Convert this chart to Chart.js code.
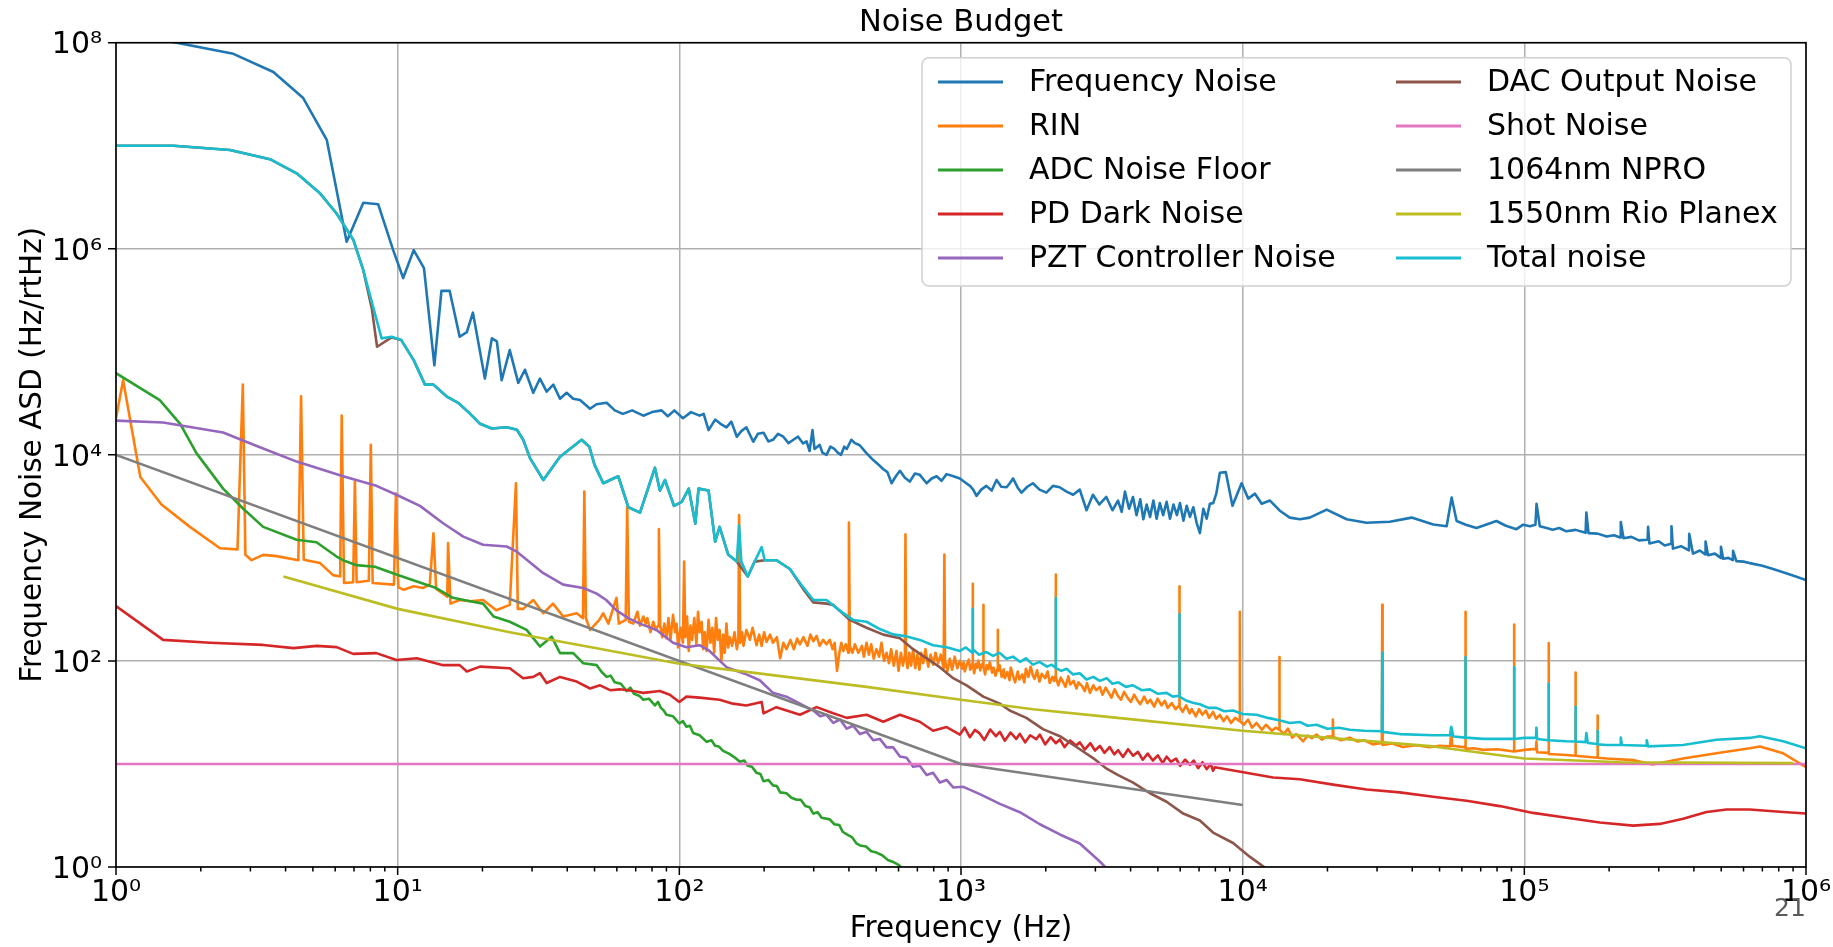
<!DOCTYPE html>
<html>
<head>
<meta charset="utf-8">
<title>Noise Budget</title>
<script src="https://cdn.jsdelivr.net/npm/chart.js@4.4.1/dist/chart.umd.min.js"></script>
<style>
  html, body { margin: 0; padding: 0; background: #fff; }
  canvas { display: block; }
</style>
</head>
<body>
<canvas id="budget" width="1833" height="947"></canvas>
<script>
// Noise budget curves, each point is [frequency (Hz), ASD (Hz/rtHz)]
const freqNoise = [
  [1, 1.3e8], [1.64, 1.0e8], [2.61, 7.8e7], [3.62, 5.2e7], [4.62, 2.9e7], [5.6, 1.14e7], [6.59, 1.17e6],
  [7.55, 2.8e6], [8.53, 2.7e6], [9.64, 9.7e5], [10.46, 5.2e5], [11.4, 9.7e5], [12.4, 6.5e5], [13.5, 7.4e4],
  [14.3, 3.9e5], [15.3, 3.9e5], [16.6, 1.4e5], [17.6, 1.55e5], [18.5, 2.4e5], [20.4, 5.5e4], [21.6, 1.35e5],
  [22.5, 1.26e5], [23.4, 5.3e4], [25.0, 1.04e5], [26.8, 5.0e4], [28.3, 6.7e4], [30.3, 4.0e4], [32, 5.5e4],
  [33.8, 4.1e4], [35.7, 4.8e4], [37.7, 3.5e4], [39.8, 4.0e4], [42, 3.5e4], [44.4, 3.4e4], [48.2, 2.8e4],
  [50.8, 3.1e4], [55.2, 3.2e4], [59, 2.7e4], [63, 2.5e4], [68, 2.7e4], [74.5, 2.4e4], [80, 2.6e4],
  [86.5, 2.7e4], [91, 2.37e4], [96, 2.7e4], [103, 2.27e4], [110, 2.6e4], [118, 2.4e4], [122, 2.5e4],
  [127, 1.74e4], [134, 2.2e4], [140, 2.0e4], [147, 1.85e4], [153, 2.1e4], [160, 1.5e4], [166, 1.7e4],
  [173, 1.85e4], [183, 1.34e4], [190, 1.6e4], [199, 1.64e4], [207, 1.35e4], [215, 1.4e4], [224, 1.6e4],
  [234, 1.5e4], [244, 1.3e4], [254, 1.4e4], [264, 1.5e4], [275, 1.29e4], [283, 1.35e4], [290, 1.09e4],
  [297, 1.74e4], [302, 1.14e4], [315, 1.25e4], [322, 1.05e4], [333, 1.0e4], [344, 1.2e4], [355, 1.14e4],
  [365, 1.05e4], [375, 1.0e4], [385, 1.2e4], [393, 1.14e4], [408, 1.4e4], [420, 1.3e4], [437, 1.24e4],
  [460, 1.05e4], [488, 8.9e3], [510, 8.0e3], [529, 7.3e3], [548, 6.8e3], [567, 5.3e3], [587, 6.2e3],
  [607, 7.0e3], [632, 6.0e3], [658, 5.5e3], [686, 6.6e3], [714, 6.4e3], [735, 5.8e3], [755, 5.3e3],
  [787, 5.9e3], [819, 6.2e3], [853, 5.6e3], [889, 6.5e3], [940, 6.2e3], [991, 5.9e3], [1035, 5.4e3],
  [1076, 5.0e3], [1105, 4.6e3], [1135, 4.0e3], [1180, 4.6e3], [1230, 5.0e3], [1285, 4.5e3], [1337, 5.7e3],
  [1390, 4.9e3], [1452, 4.85e3], [1490, 5.3e3], [1530, 5.9e3], [1590, 4.8e3], [1640, 4.3e3], [1720, 4.9e3],
  [1800, 5.3e3], [1900, 4.6e3], [2010, 4.3e3], [2120, 5.0e3], [2240, 4.85e3], [2370, 4.4e3], [2500, 4.1e3],
  [2640, 4.6e3], [2790, 2.9e3], [2940, 4.1e3], [3100, 3.3e3], [3280, 3.9e3], [3450, 2.9e3], [3610, 3.6e3],
  [3720, 2.8e3], [3820, 4.4e3], [3950, 3.0e3], [4080, 3.9e3], [4200, 2.6e3], [4330, 3.7e3], [4440, 2.37e3],
  [4560, 3.3e3], [4690, 2.5e3], [4820, 3.6e3], [4950, 2.4e3], [5080, 3.4e3], [5220, 2.6e3], [5370, 3.5e3],
  [5520, 2.4e3], [5680, 3.3e3], [5840, 2.6e3], [5990, 3.4e3], [6160, 2.3e3], [6330, 3.2e3], [6500, 2.5e3],
  [6680, 3.1e3], [6860, 2.2e3], [7050, 1.74e3], [7250, 3.0e3], [7450, 2.4e3], [7650, 3.35e3], [7860, 3.4e3],
  [8060, 4.2e3], [8300, 6.7e3], [8710, 6.8e3], [9200, 3.2e3], [9910, 5.3e3], [10470, 3.76e3], [11060, 4.2e3],
  [11680, 3.35e3], [12500, 3.6e3], [13550, 2.87e3], [14700, 2.46e3], [15960, 2.37e3], [17300, 2.46e3],
  [19870, 2.94e3], [23400, 2.37e3], [27500, 2.19e3], [33300, 2.24e3], [39800, 2.46e3], [47500, 2.11e3],
  [53000, 2.03e3], [55200, 3.85e3], [57500, 2.28e3], [62000, 2.1e3], [67600, 1.95e3], [73000, 2.1e3],
  [79600, 2.28e3], [86000, 2.05e3], [93800, 1.9e3], [99000, 2.1e3], [104700, 2.03e3], [109500, 2.1e3],
  [110500, 3.35e3], [113500, 2.03e3], [120000, 1.95e3], [126000, 1.88e3], [133000, 1.95e3], [141000, 1.81e3],
  [152000, 1.87e3], [165000, 1.75e3], [166000, 2.76e3], [169000, 1.74e3], [182000, 1.72e3], [196000, 1.61e3],
  [208000, 1.66e3], [219000, 1.58e3], [220000, 2.23e3], [225000, 1.55e3], [240000, 1.6e3], [255000, 1.48e3],
  [274000, 1.5e3], [275000, 2.0e3], [278000, 1.38e3], [300000, 1.45e3], [315000, 1.32e3], [332000, 1.37e3],
  [333000, 2.03e3], [337000, 1.23e3], [360000, 1.3e3], [384000, 1.18e3], [385000, 1.71e3], [397000, 1.1e3],
  [420000, 1.18e3], [439000, 1.08e3], [440000, 1.44e3], [449000, 1.06e3], [475000, 1.1e3], [498000, 1.0e3],
  [499000, 1.28e3], [508000, 9.8e2], [530000, 1.0e3], [550000, 9.5e2], [551000, 1.17e3], [566000, 9.3e2],
  [600000, 9.2e2], [631000, 8.9e2], [700000, 8.4e2], [764000, 7.8e2], [850000, 7.1e2], [920000, 6.6e2],
  [1e6, 6.1e2]
];

const rin = [
  [1, 2.26e4], [1.06, 5.3e4], [1.22, 6.1e3], [1.45, 3.3e3], [1.83, 2.0e3], [2.34, 1.24e3], [2.7, 1.21e3],
  [2.82, 4.8e4], [2.88, 1.07e3], [3.03, 9.5e2], [3.33, 1.07e3], [3.72, 1.04e3], [4.44, 9.5e2], [4.54, 3.7e4],
  [4.64, 9.6e2], [5.3, 8.9e2], [5.9, 6.8e2], [6.25, 6.6e2], [6.33, 2.4e4], [6.45, 5.7e2], [6.95, 5.8e2],
  [7.05, 5.5e3], [7.15, 5.8e2], [7.9, 6.0e2], [8.03, 1.25e4], [8.15, 5.7e2], [9.7, 5.5e2], [9.86, 4.2e3],
  [10.05, 5.2e2], [10.5, 4.9e2], [11.4, 5.3e2], [12.3, 5.1e2], [13.0, 5.5e2], [13.4, 1.73e3], [13.7, 5.0e2],
  [14.5, 4.5e2], [15.0, 4.2e2], [15.1, 1.39e3], [15.4, 3.6e2], [16.6, 3.9e2], [18.1, 3.8e2], [20.1, 3.9e2],
  [22.4, 3.1e2], [25, 3.5e2], [26.3, 5.3e3], [26.7, 3.2e2], [27.9, 3.2e2], [30.3, 3.9e2], [32.9, 2.9e2],
  [35.6, 3.6e2], [38.7, 2.7e2], [43.2, 2.9e2], [45.5, 2.6e2], [46, 4.4e3], [46.6, 2.6e2], [48.2, 2.0e2],
  [52, 2.5e2], [53.7, 2.9e2], [56, 2.3e2], [59.8, 4.1e2], [61, 2.3e2], [64.5, 2.5e2], [65.3, 3.1e3],
  [66.2, 2.4e2], [68.6, 2.3e2], [71, 3.0e2], [72.5, 2.2e2], [74.5, 2.7e2], [76, 2.3e2], [77, 2.6e2],
  [79, 1.9e2], [80.8, 2.4e2], [82.5, 2.0e2], [84, 2.2e2], [84.6, 1.9e3], [85.5, 2.2e2], [87, 1.7e2],
  [88.5, 2.3e2], [90, 1.66e2], [91.5, 2.6e2], [93, 1.6e2], [95, 2.8e2], [96.5, 1.9e2], [97.8, 2.3e2],
  [99, 1.35e2], [101, 2.1e2], [103, 1.5e2], [104, 9.2e2], [105, 1.7e2], [106.5, 2.7e2], [108, 1.25e2],
  [109.5, 2.2e2], [111, 1.6e2], [113, 2.6e2], [115, 1.45e2], [116.5, 3.0e2], [118, 1.9e2], [120, 2.4e2],
  [121.5, 1.3e2], [123, 1.9e2], [125, 1.25e2], [127, 2.5e2], [129, 1.5e2], [131, 2.1e2], [133, 1.2e2],
  [135, 2.6e2], [137, 1.6e2], [139, 2.0e2], [141, 1.0e2], [143, 1.8e2], [145, 1.2e2], [147, 2.3e2],
  [149, 1.35e2], [151, 1.7e2], [154, 1.4e2], [157, 1.9e2], [160, 1.3e2], [162, 1.6e2], [163, 2.6e3],
  [164.5, 1.5e2], [167, 1.9e2], [169, 1.4e2], [173, 2.0e2], [178, 1.6e2], [182, 2.1e2], [188, 1.42e2],
  [192, 1.8e2], [196, 1.4e2], [200, 1.9e2], [204, 1.53e2], [210, 1.8e2], [215, 1.5e2], [222, 1.7e2],
  [228, 1.06e2], [234, 1.5e2], [240, 1.3e2], [248, 1.6e2], [255, 1.3e2], [262, 1.65e2], [268, 1.45e2],
  [276, 1.7e2], [285, 1.4e2], [292, 1.8e2], [299, 1.55e2], [307, 1.75e2], [315, 1.4e2], [324, 1.6e2],
  [333, 1.45e2], [342, 1.6e2], [350, 1.3e2], [356, 1.5e2], [363, 80], [370, 1.2e2], [376, 1.5e2],
  [382, 1.25e2], [390, 1.45e2], [398, 1.2e2], [400, 2.2e3], [403, 1.4e2], [412, 1.2e2], [420, 1.45e2],
  [432, 1.2e2], [445, 1.4e2], [452, 1.1e2], [462, 1.5e2], [471, 1.15e2], [480, 1.45e2], [490, 1.05e2],
  [501, 1.3e2], [512, 1.1e2], [522, 1.5e2], [533, 1.0e2], [544, 1.2e2], [555, 95], [565, 1.3e2], [577, 90],
  [590, 1.25e2], [600, 80], [612, 1.2e2], [622, 90], [632, 1.15e2], [635, 1.69e3], [638, 1.1e2], [646, 85],
  [655, 1.2e2], [665, 90], [676, 1.3e2], [688, 85], [700, 1.15e2], [712, 82], [722, 1.2e2], [734, 95],
  [748, 1.3e2], [765, 88], [780, 1.15e2], [796, 92], [812, 1.2e2], [830, 95], [848, 1.15e2], [868, 85],
  [873, 1.08e3], [878, 1.0e2], [895, 80], [912, 1.05e2], [930, 82], [950, 1.1e2], [970, 85], [991, 1.0e2],
  [1010, 84], [1022, 97], [1031, 79], [1048, 92], [1066, 103], [1078, 82], [1090, 88], [1098, 95],
  [1100, 5.6e2], [1103, 92], [1114, 76], [1128, 94], [1139, 86], [1152, 101], [1170, 81], [1184, 92],
  [1198, 95], [1200, 3.5e2], [1203, 88], [1218, 74], [1233, 91], [1251, 83], [1266, 97], [1290, 77],
  [1305, 86], [1326, 72], [1348, 84], [1350, 2.0e2], [1353, 80], [1372, 91], [1394, 70], [1418, 83],
  [1430, 68], [1461, 78], [1487, 65], [1502, 86], [1534, 70], [1556, 62], [1590, 79], [1612, 66], [1650, 74],
  [1678, 62], [1700, 84], [1735, 70], [1768, 88], [1800, 72], [1825, 67], [1862, 81], [1900, 63], [1935, 75],
  [1990, 68], [2030, 79], [2066, 61], [2110, 70], [2140, 64], [2168, 72], [2170, 6.9e2], [2173, 70],
  [2215, 58], [2260, 69], [2300, 63], [2350, 56], [2405, 71], [2440, 59], [2510, 64], [2570, 54], [2610, 62],
  [2690, 57], [2750, 51], [2800, 61], [2870, 49], [2950, 58], [3020, 52], [3110, 56], [3180, 47], [3260, 55],
  [3330, 50], [3420, 44], [3510, 53], [3600, 46], [3700, 42], [3790, 50], [3900, 44], [4010, 40], [4120, 47],
  [4240, 41], [4330, 38], [4470, 45], [4590, 39], [4700, 42], [4850, 36], [4990, 43], [5150, 37], [5290, 41],
  [5420, 35], [5600, 39], [5780, 34], [5950, 37], [5960, 5.3e2], [5975, 36], [6120, 32], [6300, 37],
  [6480, 31], [6600, 34], [6820, 29], [7000, 34], [7200, 30], [7400, 33], [7600, 28], [7850, 32],
  [8050, 27.5], [8300, 30], [8550, 26], [8800, 29], [9100, 25], [9400, 28], [9760, 26], [9770, 3.0e2],
  [9790, 26], [10100, 24], [10450, 27], [10800, 22.5], [11200, 25], [11700, 21.5], [12100, 24], [12700, 21],
  [13100, 22.5], [13480, 21.5], [13500, 1.09e2], [13530, 21.5], [14000, 19.5], [14500, 22], [15000, 18],
  [15500, 19.5], [16400, 16.6], [17000, 18.8], [17600, 17.8], [18300, 19.3], [19100, 17.2], [20000, 18.5],
  [20800, 18.5], [20900, 27], [21000, 18.3], [22300, 17], [24000, 18], [25600, 16.5], [27000, 17],
  [29000, 15.5], [31200, 16], [31300, 3.5e2], [31400, 15.3], [34000, 15.8], [37000, 14.6], [41400, 15.2],
  [46000, 14.5], [50000, 15], [54500, 14.8], [55000, 20], [55500, 15], [61700, 14.5], [61800, 3.0e2],
  [61900, 14], [66000, 14.2], [71400, 13.7], [80000, 13.9], [91900, 13.2], [92000, 2.26e2], [92100, 13.2],
  [100000, 13.7], [110000, 14], [110400, 16.6], [111000, 13], [121800, 12.8], [122000, 1.49e2],
  [122200, 12.5], [141000, 12.2], [151800, 12], [152000, 77], [152200, 12], [181800, 11.5], [182000, 29.5],
  [182300, 11.5], [196000, 11.3], [243000, 10.9], [286000, 9.9], [366000, 11.3], [481000, 12.7],
  [631000, 14.2], [686000, 14.8], [830000, 12.7], [1e6, 9.3]
];

const adcFloor = [
  [1, 6.2e4], [1.43, 3.4e4], [1.69, 2.0e4], [1.93, 1.04e4], [2.4, 4.7e3], [2.83, 3.0e3], [3.33, 2.0e3],
  [4.38, 1.5e3], [5.15, 1.42e3], [6.07, 1.03e3], [6.4, 9.5e2], [7.14, 8.5e2], [8.3, 8.2e2], [9.9, 6.9e2],
  [11.7, 5.9e2], [13.7, 5.1e2], [15.7, 4.1e2], [18.1, 3.8e2], [20.1, 3.6e2], [21.9, 2.7e2], [25, 2.4e2],
  [28.7, 2.0e2], [32, 1.38e2], [35.2, 1.72e2], [37.7, 1.19e2], [42, 1.19e2], [45.6, 95], [50.9, 91],
  [53, 78], [55.2, 70], [57, 72], [59, 62], [62, 60], [65, 51], [67, 55], [69, 48], [72, 46], [74.5, 42],
  [78, 43], [81.9, 37], [84, 40], [86, 35], [88, 33], [90, 30], [95, 29], [100, 24.7], [103, 26], [106, 23],
  [109, 23.5], [112, 20], [118, 19], [125, 16.4], [130, 17], [134, 15], [138, 14.8], [143, 13.4], [150, 12.6],
  [157, 11.6], [164, 10.5], [170, 10.8], [175, 9.6], [181, 9.4], [188, 8.2], [194, 8], [199, 6.8], [207, 7.0],
  [215, 6.2], [222, 6.1], [228, 5.3], [240, 5.2], [250, 4.7], [261, 4.5], [270, 4.5], [280, 3.9], [290, 3.8],
  [299, 3.3], [310, 3.4], [320, 3.0], [342, 2.9], [355, 2.6], [370, 2.55], [380, 2.2], [393, 2.07],
  [410, 1.95], [425, 1.7], [438, 1.62], [460, 1.58], [480, 1.42], [501, 1.38], [525, 1.3], [550, 1.17],
  [574, 1.12], [600, 1.05], [625, 0.95], [649, 0.92], [700, 0.8]
];

const pdDark = [
  [1, 3.4e2], [1.47, 1.6e2], [2.16, 1.5e2], [3.33, 1.43e2], [4.27, 1.33e2], [5.16, 1.4e2], [6.07, 1.36e2],
  [6.95, 1.17e2], [8.4, 1.19e2], [9.9, 1.02e2], [11.7, 1.06e2], [14.5, 91], [16.6, 91], [17.6, 79],
  [19.6, 88], [25, 85], [27.9, 68], [30.3, 70], [32, 76], [33.8, 61], [37.7, 70], [43.2, 63], [48.2, 54],
  [52.3, 58], [56.8, 52], [61.5, 53], [68.6, 51], [74.5, 49], [85.3, 51], [92.5, 47], [100, 40], [106, 45],
  [118, 44], [139, 42], [155, 38.5], [173, 37], [196, 40], [199, 31], [221, 35.6], [268, 30], [307, 35.6],
  [352, 31], [393, 28], [462, 30], [530, 25.7], [607, 30], [714, 25.7], [796, 21], [889, 22.8], [991, 19.3],
  [1030, 22.5], [1075, 18.2], [1120, 21.4], [1165, 19.8], [1210, 17.1], [1270, 21.6], [1330, 18.6],
  [1374, 20.5], [1430, 16.8], [1500, 20.2], [1570, 17.5], [1618, 19.6], [1690, 16.2], [1760, 19.0],
  [1850, 17.4], [1905, 19.3], [1990, 15.5], [2080, 18.2], [2170, 15.9], [2244, 17.3], [2330, 14.6],
  [2440, 16.9], [2560, 15.1], [2642, 16.2], [2750, 13.8], [2880, 15.9], [2990, 13.5], [3112, 15.0],
  [3230, 12.8], [3370, 14.6], [3500, 12.4], [3614, 13.6], [3760, 11.7], [3920, 13.9], [4083, 12.0],
  [4250, 13.1], [4420, 11.0], [4600, 12.6], [4800, 10.8], [5000, 12.1], [5200, 10.2], [5370, 11.8],
  [5560, 10.5], [5800, 11.3], [6000, 9.6], [6250, 11.0], [6500, 9.8], [6700, 10.8], [6950, 9.1],
  [7200, 10.4], [7450, 8.9], [7700, 10.0], [7852, 8.6], [7962, 9.3], [10050, 8.3], [12820, 7.4],
  [15960, 7.1], [20940, 6.3], [27540, 5.65], [36140, 5.3], [47420, 4.8], [62370, 4.4], [81850, 3.9],
  [107400, 3.35], [141300, 3.0], [185400, 2.7], [243200, 2.52], [302700, 2.62], [366400, 2.94],
  [443600, 3.42], [522400, 3.61], [631000, 3.62], [829800, 3.42], [1e6, 3.3]
];

const pztController = [
  [1, 2.15e4], [1.47, 2.06e4], [2.4, 1.65e4], [3.16, 1.22e4], [4.38, 8.6e3], [6.4, 6.2e3], [8.4, 5.0e3],
  [9.9, 4.1e3], [12, 3.2e3], [14.5, 2.17e3], [17.1, 1.61e3], [20.1, 1.34e3], [24.4, 1.29e3], [26.5, 1.15e3],
  [32.9, 7.1e2], [38.7, 5.5e2], [45.6, 5.1e2], [50.9, 4.5e2], [55, 3.9e2], [59.8, 3.1e2], [65.9, 2.6e2],
  [72.4, 2.3e2], [83, 2.0e2], [95, 1.5e2], [106, 1.36e2], [118, 1.42e2], [128, 1.25e2], [147, 87], [160, 80],
  [173, 74], [193, 65], [215, 49], [240, 45], [268, 38.5], [299, 33], [316, 29], [333, 30], [352, 25],
  [372, 27], [393, 22], [414, 23.5], [438, 19.5], [462, 20.5], [488, 17], [515, 17.5], [544, 14.5],
  [574, 14.5], [607, 11.8], [641, 11.5], [676, 9.4], [714, 9.6], [755, 7.8], [796, 8.2], [841, 6.6],
  [889, 7.0], [940, 5.9], [1019, 6.0], [1167, 5.1], [1374, 4.1], [1618, 3.4], [1905, 2.6], [2244, 2.07],
  [2642, 1.69], [3090, 1.15], [3390, 0.89], [3800, 0.7]
];

const dacOutput = [
  [1, 1.0e7], [1.6, 1.0e7], [2.54, 9.1e6], [3.52, 7.4e6], [4.38, 5.4e6], [5.3, 3.45e6], [6.07, 2.2e6],
  [6.96, 1.22e6], [7.55, 6.2e5], [8.1, 2.6e5], [8.45, 1.12e5], [9.52, 1.38e5], [10.3, 1.3e5], [11.4, 8.3e4],
  [12.5, 4.8e4], [13.4, 4.8e4], [14.9, 3.7e4], [16.4, 3.2e4], [18.1, 2.5e4], [19.6, 2.0e4], [21.6, 1.8e4],
  [24.4, 1.85e4], [26.5, 1.75e4], [27.9, 1.4e4], [29.5, 9.3e3], [32.9, 5.7e3], [37.7, 9.6e3], [45, 1.4e4],
  [47.9, 1.2e4], [50, 8e3], [53.7, 5.3e3], [60.7, 6.2e3], [65.9, 3.1e3], [72.5, 2.75e3], [81.9, 7.5e3],
  [85.3, 4.5e3], [88.9, 5.7e3], [95.7, 3.2e3], [102, 3.5e3], [108, 4.7e3], [114, 2.15e3], [117, 4.7e3],
  [127, 4.5e3], [134, 1.44e3], [139, 2.0e3], [149, 1.08e3], [160, 9.2e2], [175, 6.6e2], [185, 9.2e2],
  [201, 9.5e2], [221, 9.5e2], [247, 7.8e2], [275, 5.0e2], [299, 3.7e2], [333, 3.6e2], [352, 3.5e2],
  [403, 2.5e2], [462, 2.1e2], [530, 1.8e2], [607, 1.66e2], [676, 1.3e2], [755, 1.06e2], [841, 87],
  [938, 68], [1047, 58], [1200, 45], [1374, 38.5], [1489, 33], [1706, 28], [1954, 21.8], [2244, 18.6],
  [2570, 14.6], [2944, 11.4], [3289, 9.0], [3614, 7.8], [4083, 6.6], [4688, 5.2], [5370, 4.3], [6152, 3.3],
  [7047, 2.83], [7852, 2.16], [9247, 1.71], [10590, 1.26], [12160, 0.96], [14000, 0.75]
];

const shotNoise = [[1, 10], [1e6, 10]];

const npro1064 = [[1, 1.0e4], [1000, 10], [1e4, 4.0]];

const rioPlanex1550 = [
  [3.93, 660], [10, 320], [25, 190], [52, 131], [100, 94], [204, 74], [462, 56], [1000, 42], [1800, 34],
  [3600, 28], [1e4, 21], [47500, 14.8], [1e5, 11.3], [2.2e5, 10.4], [9e5, 10.2]
];

const totalNoise = [
  [1, 1.0e7], [1.6, 1.0e7], [2.54, 9.1e6], [3.52, 7.4e6], [4.38, 5.4e6], [5.3, 3.45e6], [6.07, 2.2e6],
  [6.96, 1.22e6], [7.55, 6.2e5], [8.19, 2.7e5], [8.77, 1.35e5], [9.52, 1.4e5], [10.3, 1.3e5], [11.4, 8.3e4],
  [12.5, 4.8e4], [13.4, 4.8e4], [14.9, 3.7e4], [16.4, 3.2e4], [18.1, 2.5e4], [19.6, 2.0e4], [21.6, 1.8e4],
  [24.4, 1.85e4], [26.5, 1.75e4], [27.9, 1.4e4], [29.5, 9.3e3], [32.9, 5.7e3], [37.7, 9.6e3], [45, 1.4e4],
  [47.9, 1.2e4], [50, 8e3], [53.7, 5.3e3], [60.7, 6.2e3], [65.9, 3.1e3], [72.5, 2.75e3], [81.9, 7.5e3],
  [85.3, 4.5e3], [88.9, 5.7e3], [95.7, 3.2e3], [102, 3.5e3], [108, 4.7e3], [114, 2.15e3], [117, 4.7e3],
  [127, 4.5e3], [134, 1.44e3], [139, 2.0e3], [149, 1.08e3], [160, 9.2e2], [163, 2.07e3], [166, 9.2e2],
  [175, 6.6e2], [185, 9.2e2], [196, 1.27e3], [201, 9.5e2], [221, 9.5e2], [247, 7.8e2], [275, 5.2e2],
  [299, 3.9e2], [333, 3.9e2], [372, 3.06e2], [414, 2.5e2], [462, 2.4e2], [515, 2.04e2], [574, 1.81e2],
  [641, 1.73e2], [714, 1.6e2], [796, 1.42e2], [889, 1.36e2], [991, 1.25e2], [1040, 1.35e2], [1098, 1.2e2],
  [1100, 3.2e2], [1103, 1.3e2], [1160, 1.15e2], [1230, 1.22e2], [1300, 1.12e2], [1370, 1.2e2], [1450, 1.05e2],
  [1530, 1.1e2], [1620, 98], [1700, 1.06e2], [1800, 92], [1900, 98], [2020, 88], [2100, 92], [2168, 86],
  [2170, 4.1e2], [2173, 85], [2270, 80], [2370, 84], [2500, 74], [2640, 76], [2790, 66], [2950, 70],
  [3110, 64], [3290, 68], [3450, 60], [3620, 62], [3850, 56], [4080, 58], [4380, 52], [4690, 53], [5000, 48],
  [5370, 49], [5650, 45], [5950, 46], [5960, 2.86e2], [5975, 45], [6330, 41], [6700, 39], [7050, 38],
  [7550, 35], [8070, 35], [8600, 32.5], [9250, 33], [10000, 30.5], [11200, 30], [12300, 28], [13500, 26.5],
  [14700, 25], [16000, 25.5], [17000, 23.5], [18300, 24], [20000, 22], [22000, 22.5], [24000, 21.5],
  [27000, 21], [31200, 20.8], [31300, 1.2e2], [31400, 20.5], [36100, 19.5], [47500, 19], [54500, 19],
  [55000, 23], [56000, 18.5], [61700, 18], [61800, 1.09e2], [61900, 18], [71400, 17.5], [91900, 17.5],
  [92000, 87], [92100, 17.5], [100000, 17.9], [110000, 18], [110400, 22.5], [111000, 17.5], [121800, 17],
  [122000, 60], [122200, 17], [141000, 16.6], [151800, 16.5], [152000, 36], [152200, 16.5], [165000, 16.3],
  [166000, 20], [168000, 16], [181800, 15.6], [182000, 21], [182300, 15.5], [196000, 15.3], [219000, 15.3],
  [220000, 18], [222000, 15.3], [271000, 15], [272000, 17], [275000, 14.8], [366000, 15.3], [481000, 17.2],
  [631000, 17.9], [686000, 18.6], [830000, 16.6], [1e6, 14.2]
];

const seriesNames = [
  'Frequency Noise', 'RIN', 'ADC Noise Floor', 'PD Dark Noise', 'PZT Controller Noise',
  'DAC Output Noise', 'Shot Noise', '1064nm NPRO', '1550nm Rio Planex', 'Total noise'
];
const seriesData = [freqNoise, rin, adcFloor, pdDark, pztController, dacOutput, shotNoise, npro1064, rioPlanex1550, totalNoise];
const seriesColors = ['#1f77b4', '#ff7f0e', '#2ca02c', '#d62728', '#9467bd', '#8c564b', '#e377c2', '#7f7f7f', '#bcbd22', '#17becf'];

const xTickValues = [1, 10, 100, 1000, 10000, 100000, 1000000];
const xTickLabels = ['10⁰', '10¹', '10²', '10³', '10⁴', '10⁵', '10⁶'];
const yTickValues = [1, 100, 10000, 1000000, 100000000];
const yTickLabels = ['10⁰', '10²', '10⁴', '10⁶', '10⁸'];

const FONT = "'DejaVu Sans', sans-serif";
const GRID = '#b0b0b0';

// minor ticks 2..9 inside every decade
const xMinorValues = [];
xTickValues.slice(0, -1).forEach(d => {
  for (let m = 2; m <= 9; m++) xMinorValues.push(m * d);
});

// spines + tick marks, drawn over the curves
const framePlugin = {
  id: 'frame',
  afterDatasetsDraw(chart) {
    const { ctx, chartArea: a, scales: { x, y } } = chart;
    ctx.save();
    ctx.strokeStyle = '#000';
    ctx.lineWidth = 1.5;
    ctx.beginPath();
    xTickValues.concat(xMinorValues).forEach(v => {
      const px = x.getPixelForValue(v);
      const len = xTickValues.includes(v) ? 8 : 4.5;
      ctx.moveTo(px, a.bottom);
      ctx.lineTo(px, a.bottom + len);
    });
    yTickValues.forEach(v => {
      const py = y.getPixelForValue(v);
      ctx.moveTo(a.left, py);
      ctx.lineTo(a.left - 8, py);
    });
    ctx.stroke();
    ctx.lineWidth = 1.6;
    ctx.strokeRect(a.left, a.top, a.right - a.left, a.bottom - a.top);
    ctx.restore();
  }
};

// two-column legend box in the upper right corner
const legendPlugin = {
  id: 'legendBox',
  afterDraw(chart) {
    const { ctx, chartArea: a } = chart;
    const boxRight = a.right - 15, boxTop = a.top + 15;
    const boxLeft = 922, boxBottom = 286;
    const colX = [938, 1396];
    const rowY0 = 82, rowStep = 44;
    ctx.save();
    const r = 7;
    ctx.beginPath();
    ctx.moveTo(boxLeft + r, boxTop);
    ctx.arcTo(boxRight, boxTop, boxRight, boxBottom, r);
    ctx.arcTo(boxRight, boxBottom, boxLeft, boxBottom, r);
    ctx.arcTo(boxLeft, boxBottom, boxLeft, boxTop, r);
    ctx.arcTo(boxLeft, boxTop, boxRight, boxTop, r);
    ctx.closePath();
    ctx.fillStyle = 'rgba(255,255,255,0.8)';
    ctx.fill();
    ctx.strokeStyle = '#d0d0d0';
    ctx.lineWidth = 1.5;
    ctx.stroke();

    ctx.font = '30px ' + FONT;
    ctx.textBaseline = 'middle';
    ctx.textAlign = 'left';
    seriesNames.forEach((name, i) => {
      const col = Math.floor(i / 5), row = i % 5;
      const yy = rowY0 + row * rowStep;
      const x0 = colX[col];
      ctx.strokeStyle = seriesColors[i];
      ctx.lineWidth = 3;
      ctx.beginPath();
      ctx.moveTo(x0, yy);
      ctx.lineTo(x0 + 65, yy);
      ctx.stroke();
      ctx.fillStyle = '#000';
      ctx.fillText(name, x0 + 91, yy + 1);
    });

    // slide page number in the corner
    ctx.font = '25px ' + FONT;
    ctx.fillStyle = '#5a5a5a';
    ctx.textAlign = 'center';
    ctx.fillText('21', 1790, 909);
    ctx.restore();
  }
};

Chart.defaults.font.family = FONT;
Chart.defaults.color = '#000';

new Chart(document.getElementById('budget'), {
  type: 'line',
  data: {
    datasets: seriesData.map((pts, i) => ({
      label: seriesNames[i],
      data: pts.map(p => ({ x: p[0], y: p[1] })),
      borderColor: seriesColors[i],
      backgroundColor: seriesColors[i],
      borderWidth: 2.6,
      borderJoinStyle: 'round',
      pointRadius: 0,
      pointHoverRadius: 0,
      tension: 0,
      fill: false,
      order: seriesData.length - i
    }))
  },
  options: {
    responsive: false,
    animation: false,
    parsing: false,
    normalized: true,
    events: [],
    layout: { padding: { left: 0, right: 27, top: 0, bottom: 0 } },
    plugins: {
      legend: { display: false },
      tooltip: { enabled: false },
      title: {
        display: true,
        text: 'Noise Budget',
        fullSize: false,
        color: '#000',
        font: { family: FONT, size: 30.5, weight: 'normal' },
        padding: { top: 5, bottom: 1.1 }
      }
    },
    scales: {
      x: {
        type: 'logarithmic',
        min: 1,
        max: 1e6,
        afterBuildTicks(scale) {
          scale.ticks = xTickValues.concat(xMinorValues).sort((p, q) => p - q).map(v => ({ value: v }));
        },
        afterFit(scale) { scale.height = 80; },
        ticks: {
          autoSkip: false,
          maxRotation: 0,
          minRotation: 0,
          padding: 0,
          color: '#000',
          font: { size: 30 },
          callback(value) {
            const k = xTickValues.indexOf(value);
            return k >= 0 ? xTickLabels[k] : '';
          }
        },
        grid: {
          color: c => (c.tick && xTickValues.includes(c.tick.value)) ? GRID : 'rgba(0,0,0,0)',
          lineWidth: 1.5,
          drawTicks: true,
          tickLength: 8,
          tickColor: 'rgba(0,0,0,0)'
        },
        border: { display: false },
        title: {
          display: true,
          text: 'Frequency (Hz)',
          color: '#000',
          font: { size: 29.5 },
          padding: { top: 0, bottom: 0.3 }
        }
      },
      y: {
        type: 'logarithmic',
        min: 1,
        max: 1e8,
        afterBuildTicks(scale) {
          scale.ticks = yTickValues.map(v => ({ value: v }));
        },
        afterFit(scale) { scale.width = 116; },
        ticks: {
          padding: 6,
          labelOffset: 3,
          color: '#000',
          font: { size: 30 },
          callback(value) {
            const k = yTickValues.indexOf(value);
            return k >= 0 ? yTickLabels[k] : '';
          }
        },
        grid: {
          color: GRID,
          lineWidth: 1.5,
          drawTicks: true,
          tickLength: 8,
          tickColor: 'rgba(0,0,0,0)'
        },
        border: { display: false },
        title: {
          display: true,
          text: 'Frequency Noise ASD (Hz/rtHz)',
          color: '#000',
          font: { size: 29.5 },
          padding: { top: 16, bottom: 0 }
        }
      }
    }
  },
  plugins: [framePlugin, legendPlugin]
});
</script>
</body>
</html>
